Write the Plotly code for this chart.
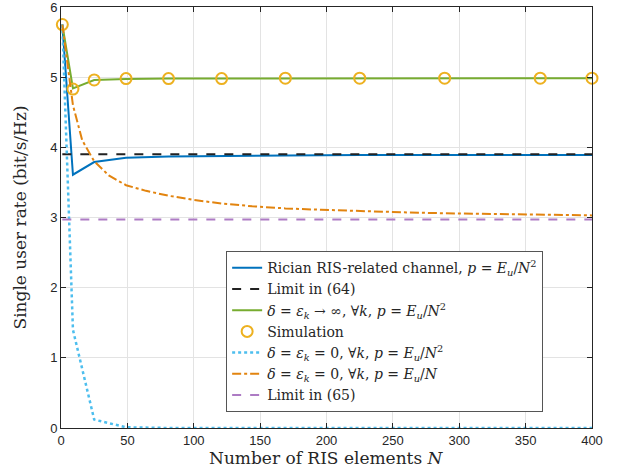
import plotly.graph_objects as go

# ---- data ----
N_sim = [1, 9, 25, 49, 81, 121, 169, 225, 289, 361, 400]
rician = [5.75, 3.61, 3.79, 3.85, 3.87, 3.88, 3.885, 3.89, 3.89, 3.89, 3.89]
inf_k = [5.75, 4.84, 4.96, 4.975, 4.98, 4.982, 4.983, 4.984, 4.985, 4.985, 4.985]
simulation = [5.75, 4.83, 4.96, 4.98, 4.98, 4.98, 4.985, 4.985, 4.985, 4.985, 4.985]

N_sq = [1, 4, 9, 16, 25, 36, 49, 64, 81, 100, 121, 144, 169, 196, 225,
        256, 289, 324, 361, 400]
zero_k_N = [5.75, 5.30, 4.60, 4.10, 3.80, 3.60, 3.46, 3.38, 3.31, 3.25, 3.20,
            3.16, 3.13, 3.11, 3.09, 3.075, 3.06, 3.05, 3.04, 3.03]

zero_k_N2 = [5.75, 1.40, 0.12, 0.01, 0.0, 0.0, 0.0, 0.0, 0.0, 0.0, 0.0]

limit64 = 3.90
limit65 = 2.97
N_range = [1, 400]

x_ticks = [0, 50, 100, 150, 200, 250, 300, 350, 400]
y_ticks = [0, 1, 2, 3, 4, 5, 6]

x_title = "Number of RIS elements <i>N</i>"
y_title = "Single user rate (bit/s/Hz)"

SERIF = "DejaVu Serif"
SANS = "Liberation Sans"

fig = go.Figure()
fig.add_trace(go.Scatter(x=N_sim, y=rician, mode="lines",
                         line=dict(color="#0072BD", width=2),
                         name="Rician RIS-related channel, <i>p</i> = <i>E<sub>u</sub></i>/<i>N</i><sup>2</sup>"))
fig.add_trace(go.Scatter(x=N_range, y=[limit64, limit64], mode="lines",
                         line=dict(color="#222222", width=2, dash="dash"),
                         name="Limit in (64)"))
fig.add_trace(go.Scatter(x=N_sim, y=inf_k, mode="lines",
                         line=dict(color="#77AC30", width=2),
                         name="<i>δ</i> = <i>ε<sub>k</sub></i> → ∞, ∀<i>k</i>, <i>p</i> = <i>E<sub>u</sub></i>/<i>N</i><sup>2</sup>"))
fig.add_trace(go.Scatter(x=N_sim, y=simulation, mode="markers",
                         marker=dict(symbol="circle-open", size=11, color="#EDB120",
                                     line=dict(width=2, color="#EDB120")),
                         cliponaxis=False,
                         name="Simulation"))
fig.add_trace(go.Scatter(x=N_sim, y=zero_k_N2, mode="lines",
                         line=dict(color="#4DBEEE", width=2.5, dash="dot"),
                         cliponaxis=False,
                         name="<i>δ</i> = <i>ε<sub>k</sub></i> = 0, ∀<i>k</i>, <i>p</i> = <i>E<sub>u</sub></i>/<i>N</i><sup>2</sup>"))
fig.add_trace(go.Scatter(x=N_sq, y=zero_k_N, mode="lines",
                         line=dict(color="#E2840F", width=2, dash="dashdot"),
                         name="<i>δ</i> = <i>ε<sub>k</sub></i> = 0, ∀<i>k</i>, <i>p</i> = <i>E<sub>u</sub></i>/<i>N</i>"))
fig.add_trace(go.Scatter(x=N_range, y=[limit65, limit65], mode="lines",
                         line=dict(color="#AD7BC4", width=2, dash="dash"),
                         name="Limit in (65)"))

axis_common = dict(showline=True, linecolor="#262626", linewidth=1, mirror="ticks",
                   ticks="inside", ticklen=5, tickcolor="#262626", automargin=False,
                   ticklabeloverflow="allow",
                   showgrid=True, gridcolor="#E3E3E3", gridwidth=1, zeroline=False,
                   tickfont=dict(family=SANS, size=13, color="#262626"))

fig.update_layout(
    width=618, height=472,
    margin=dict(l=61, r=26, t=7, b=44),
    paper_bgcolor="white", plot_bgcolor="white",
    xaxis=dict(range=[0, 400], tickvals=x_ticks, **axis_common),
    yaxis=dict(range=[0, 6], tickvals=y_ticks, **axis_common),
    legend=dict(x=0.311, y=0.42, xanchor="left", yanchor="top",
                bgcolor="white", bordercolor="#555555", borderwidth=1,
                font=dict(family=SERIF, size=14, color="#262626"),
                tracegroupgap=0),
    showlegend=True,
    annotations=[
        dict(text=x_title, xref="paper", yref="paper", x=0.5, y=0, yshift=-42,
             xanchor="center", yanchor="bottom", showarrow=False,
             font=dict(family=SERIF, size=17, color="#262626")),
        dict(text=y_title, xref="paper", yref="paper", x=0, y=0.5, xshift=-42,
             xanchor="center", yanchor="middle", textangle=-90, showarrow=False,
             font=dict(family=SERIF, size=17, color="#262626")),
    ],
)

fig.write_html("out.html", config={"displayModeBar": False},
               post_script="document.body.style.margin='0';")
